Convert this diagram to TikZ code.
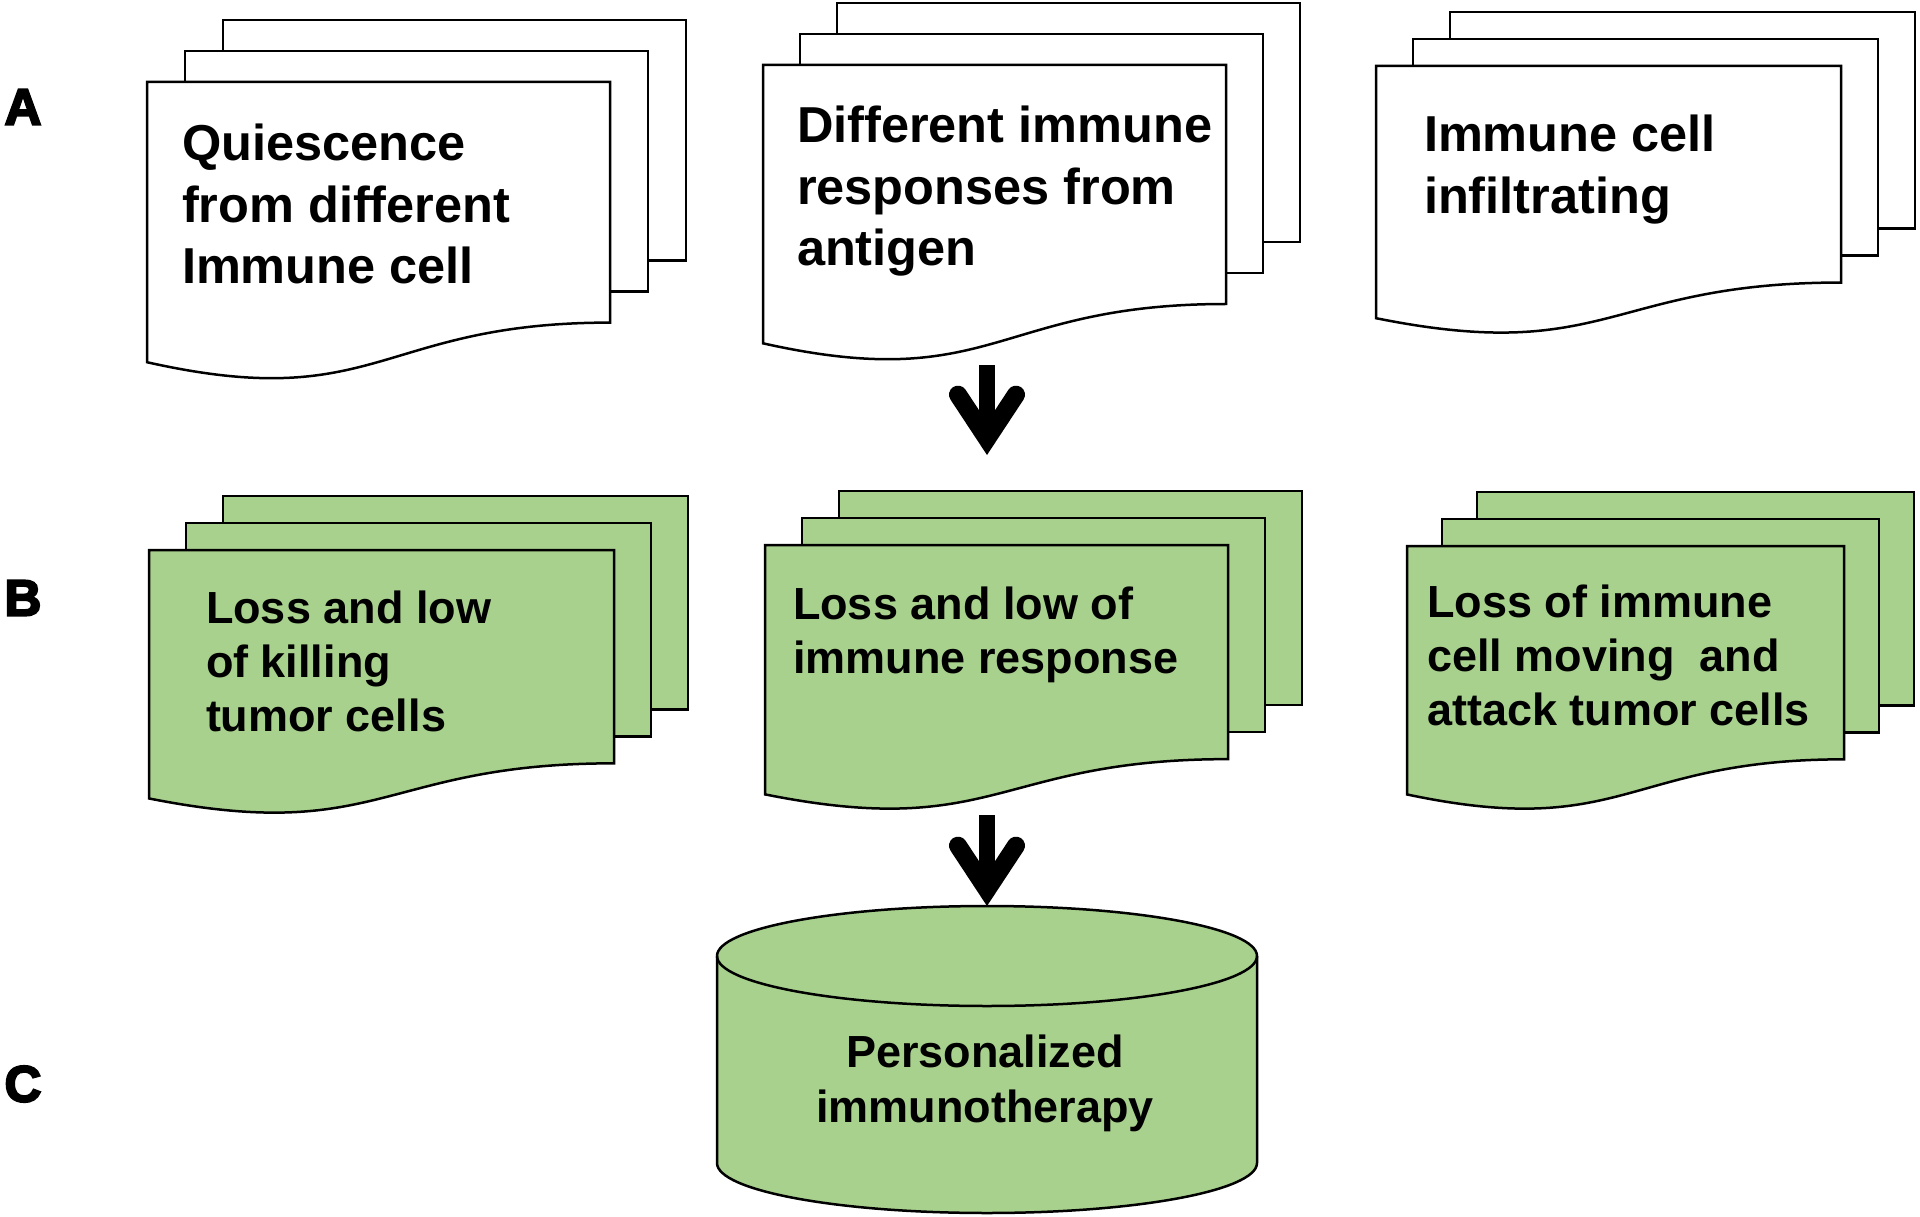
\documentclass[tikz,border=0pt]{standalone}
\usepackage{fontspec}
\setmainfont{Liberation Sans}
\newfontfamily\lblfont{Liberation Sans}[BoldFeatures={FakeBold=4}]
\usetikzlibrary{arrows.meta}
\definecolor{docgreen}{HTML}{A9D18E}
% #1 name, #2 left, #3 top, #4 width, #5 height, #6 dx, #7 dy, #8 fill
\newcommand{\mydocstack}[8]{%
  \path[docline,fill=#8] ({#2+2*#6},{#3-2*#7}) rectangle ++(#4,{0.802*#5});
  \path[docline,fill=#8] ({#2+#6},{#3-#7}) rectangle ++(#4,{0.802*#5});
  \path[docline,fill=#8] (#2,#3) -- ++(#4,0) -- ++(0,{0.802*#5})
     .. controls ({#2+0.5*#4},{#3+0.802*#5}) and ({#2+0.5*#4},{#3+1.1075*#5}) .. (#2,{#3+0.934*#5}) -- cycle;
  \node[anchorbox,minimum width=#4pt,minimum height=#5pt,anchor=north west] (#1) at (#2,#3) {};
}
\begin{document}
\begin{tikzpicture}[x=1pt,y=-1pt,
  docline/.style={draw=black,line width=2.5pt,line join=miter},
  anchorbox/.style={inner sep=0pt,outer sep=0pt,draw=none},
  txt/.style={inner sep=0pt,outer sep=0pt,align=left,anchor=north west},
  fa/.style={font=\bfseries\fontsize{50.5}{61.5}\selectfont},
  fb/.style={font=\bfseries\fontsize{45}{54}\selectfont},
  lbl/.style={inner sep=0pt,font=\lblfont\bfseries\fontsize{51}{51}\selectfont},
  bigarrow/.style={line width=16pt,
    -{Straight Barb[length=44pt,width=58pt,line width=18pt,line cap=round,line join=miter]}}]
\useasboundingbox (0,0) rectangle (1920,1217);

% row A
\mydocstack{A1}{147}{82}{463}{300}{38}{31}{white}
\mydocstack{A2}{763}{65}{463}{298}{37}{31}{white}
\mydocstack{A3}{1376}{66}{465}{270}{37}{27}{white}
\node[txt,fa] (a1) at (182,124) {Quiescence\\from different\\Immune cell};
\node[txt,fa] (a2) at (797,106) {Different immune\\responses from\\antigen};
\node[txt,fa] (a3) at (1424,115) {Immune cell\\infiltrating};

% row B
\mydocstack{B1}{149}{550}{465}{266}{37}{27}{docgreen}
\mydocstack{B2}{765}{545}{463}{267}{37}{27}{docgreen}
\mydocstack{B3}{1407}{546}{437}{266}{35}{27}{docgreen}
\node[txt,fb] (b1) at (206,591) {Loss and low\\of killing\\tumor cells};
\node[txt,fb] (b2) at (793,587) {Loss and low of\\immune response};
\node[txt,fb] (b3) at (1427,585) {Loss of immune\\cell moving~ and\\attack tumor cells};

% row C: cylinder
\node[anchorbox,minimum width=540pt,minimum height=307pt,anchor=north] (cyl) at (987,906) {};
\path[docline,fill=docgreen] (717,956) -- (717,1163)
   arc[start angle=180,end angle=360,x radius=270pt,y radius=50pt] -- (1257,956)
   arc[start angle=0,end angle=180,x radius=270pt,y radius=50pt] -- cycle;
\draw[docline] (717,956) arc[start angle=180,end angle=360,x radius=270pt,y radius=50pt];
\node[inner sep=0pt,outer sep=0pt,align=center,anchor=north,
  font=\bfseries\fontsize{45}{55}\selectfont] (c) at (985,1035) {Personalized\\immunotherapy};

% arrows
\draw[bigarrow,shorten <=2pt,shorten >=90pt] (A2.south -| cyl.north) -- (B2.north -| cyl.north);
\draw[bigarrow,shorten <=3pt] (B2.south -| cyl.north) -- (cyl.north);

% side labels
\node[lbl] (lA) at (23,107) {A};
\node[lbl] (lB) at (23,598) {B};
\node[lbl] (lC) at (23,1084) {C};
\end{tikzpicture}
\end{document}
